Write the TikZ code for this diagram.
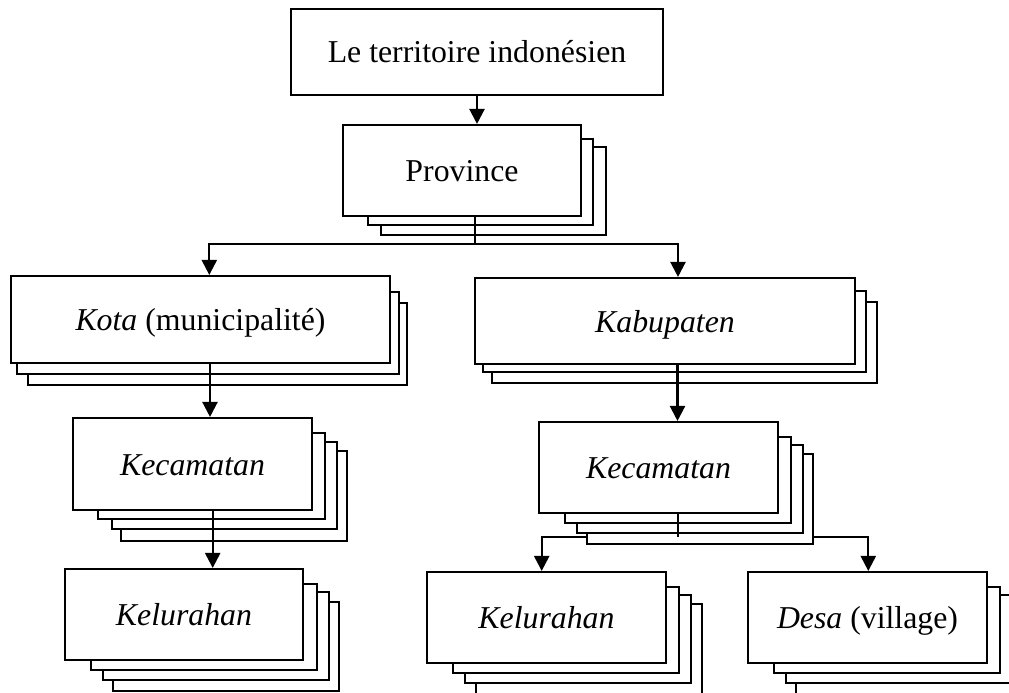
\documentclass[tikz,border=0pt]{standalone}
\usepackage{fontspec}
\setmainfont{Liberation Serif}
\usetikzlibrary{arrows.meta}
\pgfdeclarelayer{bg}
\pgfsetlayers{bg,main}
\tikzset{
  front/.style={draw, line width=2.1pt, fill=white, inner sep=0pt,
    font=\fontsize{31.8}{38}\selectfont, text height=22pt, text depth=0pt},
  layer/.style={draw, line width=2.1pt, fill=white},
  conn/.style={line width=2.3pt},
  arr/.style={conn, -{Triangle[length=15pt,width=15pt]}},
}
\begin{document}
\begin{tikzpicture}[x=1pt,y=-1pt]
\useasboundingbox (0,0) rectangle (1009,693);
\clip (0,0) rectangle (1009,693);

% top box
\node[front, minimum width=372pt, minimum height=86pt] (top) at (477,52) {Le territoire indonésien};

% Province
\draw[layer] (381,147) rectangle (606,235);
\draw[layer] (368,139) rectangle (593,225);
\node[front, minimum width=238pt, minimum height=91pt] (prov) at (462,170.5) {Province};

% Kota
\draw[layer] (28,303) rectangle (407,385);
\draw[layer] (17,292) rectangle (399,374);
\node[front, minimum width=379pt, minimum height=87pt] (kota) at (200.5,319.5) {\textit{Kota} (municipalité)};

% Kabupaten
\draw[layer] (492,302) rectangle (877,383);
\draw[layer] (483,291) rectangle (866,372);
\node[front, minimum width=380pt, minimum height=86pt] (kab) at (665,321) {\textit{Kabupaten}};

% Kecamatan left
\draw[layer] (121,451) rectangle (347,541);
\draw[layer] (112,442) rectangle (337,529);
\draw[layer] (98,433) rectangle (325,519);
\node[front, minimum width=239pt, minimum height=92pt] (kecL) at (192.5,464) {\textit{Kecamatan}};

% Kecamatan right
\draw[layer] (587,454) rectangle (813,544);
\draw[layer] (577,445) rectangle (803,533);
\draw[layer] (565,437) rectangle (791,523);
\node[front, minimum width=239pt, minimum height=91pt] (kecR) at (658.5,467.5) {\textit{Kecamatan}};

% Kelurahan left
\draw[layer] (113,602) rectangle (339,691);
\draw[layer] (103,592) rectangle (329,680);
\draw[layer] (91,584) rectangle (317,670);
\node[front, minimum width=238pt, minimum height=91pt] (kelL) at (184,614.5) {\textit{Kelurahan}};

% Kelurahan right
\draw[layer] (476,604) rectangle (702,700);
\draw[layer] (465,595) rectangle (691,683);
\draw[layer] (453,587) rectangle (679,673);
\node[front, minimum width=239pt, minimum height=91pt] (kelR) at (546.5,617.5) {\textit{Kelurahan}};

% Desa
\draw[layer] (796,604) rectangle (1023,700);
\draw[layer] (786,595) rectangle (1012,683);
\draw[layer] (774,587) rectangle (1000,673);
\node[front, minimum width=239pt, minimum height=91pt] (desa) at (867.5,617.5) {\textit{Desa} (village)};

% x positions of the connectors
\coordinate (xkota) at (209.3,0);
\coordinate (xkab) at (678,0);
\coordinate (xkecL) at (210,0);
\coordinate (xkelL) at (212.7,0);
\coordinate (xkecR) at (677.5,0);
\coordinate (xkelR) at (541.7,0);
\coordinate (xdesa) at (868.3,0);
\coordinate (pj) at (475,244);
\coordinate (kj) at (678,537);

% connectors
\draw[arr] (top.south) -- (top.south |- prov.north);
\draw[conn] (pj |- prov.south) -- ([yshift=-1pt]pj);
\draw[arr] (pj) -| (kota.north -| xkota);
\draw[arr] (pj) -| (kab.north -| xkab);
\draw[arr] (kota.south -| xkecL) -- (kecL.north -| xkecL);
\draw[arr] (kecL.south -| xkelL) -- (kelL.north -| xkelL);
\draw[arr] (kab.south -| xkecR) -- (kecR.north -| xkecR);
\draw[conn] (kj |- kecR.south) -- (kj);
\begin{pgfonlayer}{bg}
\draw[arr] (kj) -| (kelR.north -| xkelR);
\draw[arr] (kj) -| (desa.north -| xdesa);
\end{pgfonlayer}
\end{tikzpicture}
\end{document}
